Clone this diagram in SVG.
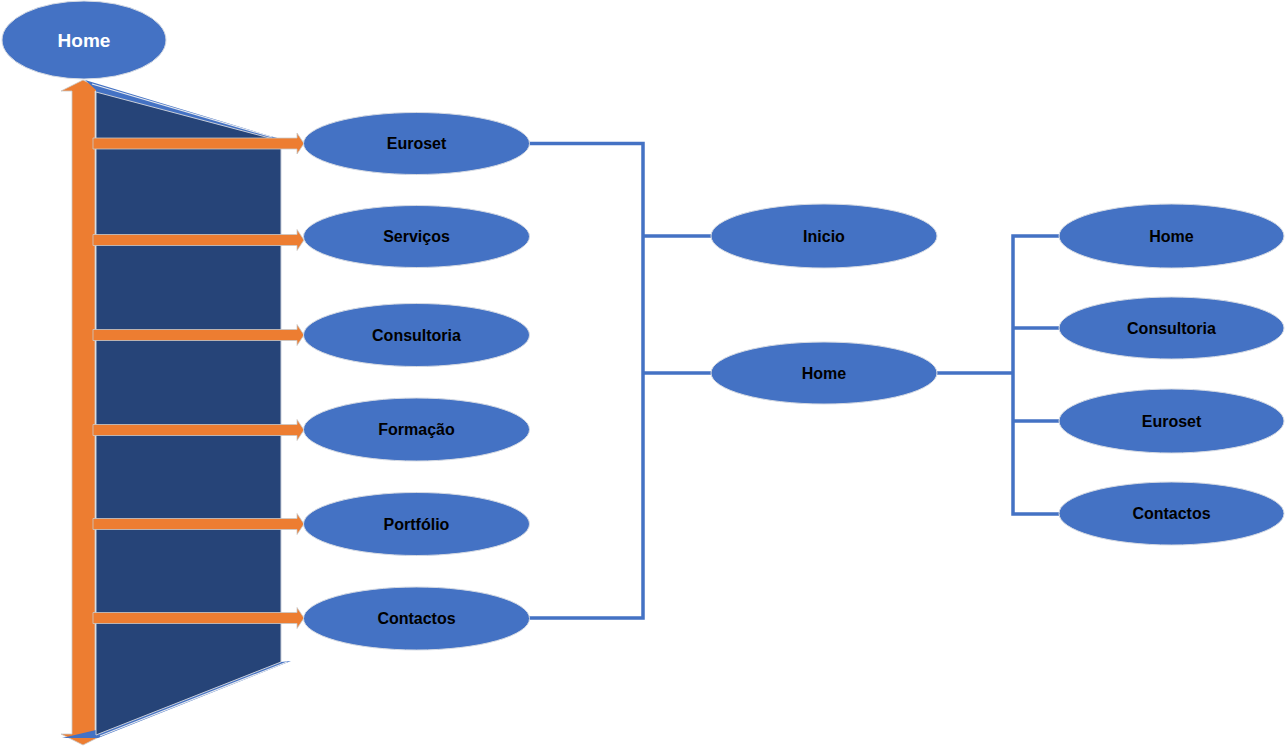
<svg xmlns="http://www.w3.org/2000/svg" width="1286" height="746" viewBox="0 0 1286 746">
<style>
.n{fill:#4472C4;stroke:#D5DAE3;stroke-width:1}
.t{font-family:"Liberation Sans",Arial,sans-serif;font-weight:bold;font-size:16px;fill:#000;text-anchor:middle;dominant-baseline:central}
.tw{font-family:"Liberation Sans",Arial,sans-serif;font-weight:bold;font-size:19px;fill:#fff;text-anchor:middle;dominant-baseline:central}
.c{fill:none;stroke:#4472C4;stroke-width:3.5;stroke-linejoin:miter}
.o{fill:#ED7D31;stroke:#C9C9C9;stroke-width:0.8}
</style>
<defs>
<path id="ha" d="M93,-5.5 H297 V-10.5 L304,0 L297,10.5 V5.5 H93 Z"/>
</defs>
<rect width="1286" height="746" fill="#fff"/>
<g id="backdrop">
<polygon points="61,91 83,80 105,91 95,91 95,734 105,734 83,745 61,734 72,734 72,91" class="o"/>
<polygon points="85,80 270,136 281,139 281,662 291,661 98,738 62,738 96,730 96,90" fill="#4472C4"/>
<polygon points="96,92 281,141 281,662 96,735" fill="#264478" stroke="#C9CED8" stroke-width="1"/>
<polyline points="92,84 272,137" fill="none" stroke="#E6E9EF" stroke-width="1.2"/>
<polyline points="100,736 287,662" fill="none" stroke="#E6E9EF" stroke-width="1.2"/>
</g>
<g id="connectors">
<polyline class="c" points="529,143.5 643,143.5 643,618 529,618"/>
<line class="c" x1="643" y1="236" x2="712" y2="236"/>
<line class="c" x1="643" y1="373" x2="712" y2="373"/>
<line class="c" x1="937" y1="373" x2="1013" y2="373"/>
<polyline class="c" points="1059,236 1013,236 1013,514 1059,514"/>
<line class="c" x1="1013" y1="328" x2="1059" y2="328"/>
<line class="c" x1="1013" y1="421" x2="1059" y2="421"/>
<use href="#ha" class="o" transform="translate(0,143.5)"/>
<use href="#ha" class="o" transform="translate(0,240)"/>
<use href="#ha" class="o" transform="translate(0,335)"/>
<use href="#ha" class="o" transform="translate(0,430)"/>
<use href="#ha" class="o" transform="translate(0,524)"/>
<use href="#ha" class="o" transform="translate(0,618)"/>
</g>
<g id="home-top"><ellipse class="n" cx="84" cy="40" rx="82" ry="39"/><text class="tw" x="84" y="40">Home</text></g>
<g id="euroset"><ellipse class="n" cx="416.5" cy="143.5" rx="113" ry="31"/><text class="t" x="416.5" y="143.5">Euroset</text></g>
<g id="servicos"><ellipse class="n" cx="416.5" cy="236.5" rx="113" ry="31"/><text class="t" x="416.5" y="236.5">Serviços</text></g>
<g id="consultoria"><ellipse class="n" cx="416.5" cy="335" rx="113" ry="31.5"/><text class="t" x="416.5" y="335">Consultoria</text></g>
<g id="formacao"><ellipse class="n" cx="416.5" cy="429.5" rx="113" ry="31.5"/><text class="t" x="416.5" y="429.5">Formação</text></g>
<g id="portfolio"><ellipse class="n" cx="416.5" cy="524" rx="113" ry="31.5"/><text class="t" x="416.5" y="524">Portfólio</text></g>
<g id="contactos"><ellipse class="n" cx="416.5" cy="618.5" rx="113" ry="31.5"/><text class="t" x="416.5" y="618.5">Contactos</text></g>
<g id="inicio"><ellipse class="n" cx="824" cy="236" rx="113" ry="32"/><text class="t" x="824" y="236">Inicio</text></g>
<g id="home-mid"><ellipse class="n" cx="824" cy="373" rx="113" ry="31"/><text class="t" x="824" y="373">Home</text></g>
<g id="home-r"><ellipse class="n" cx="1171.5" cy="236" rx="112.5" ry="32"/><text class="t" x="1171.5" y="236">Home</text></g>
<g id="consultoria-r"><ellipse class="n" cx="1171.5" cy="328" rx="112.5" ry="31"/><text class="t" x="1171.5" y="328">Consultoria</text></g>
<g id="euroset-r"><ellipse class="n" cx="1171.5" cy="421" rx="112.5" ry="32"/><text class="t" x="1171.5" y="421">Euroset</text></g>
<g id="contactos-r"><ellipse class="n" cx="1171.5" cy="513.5" rx="112.5" ry="31.5"/><text class="t" x="1171.5" y="513.5">Contactos</text></g>
</svg>
